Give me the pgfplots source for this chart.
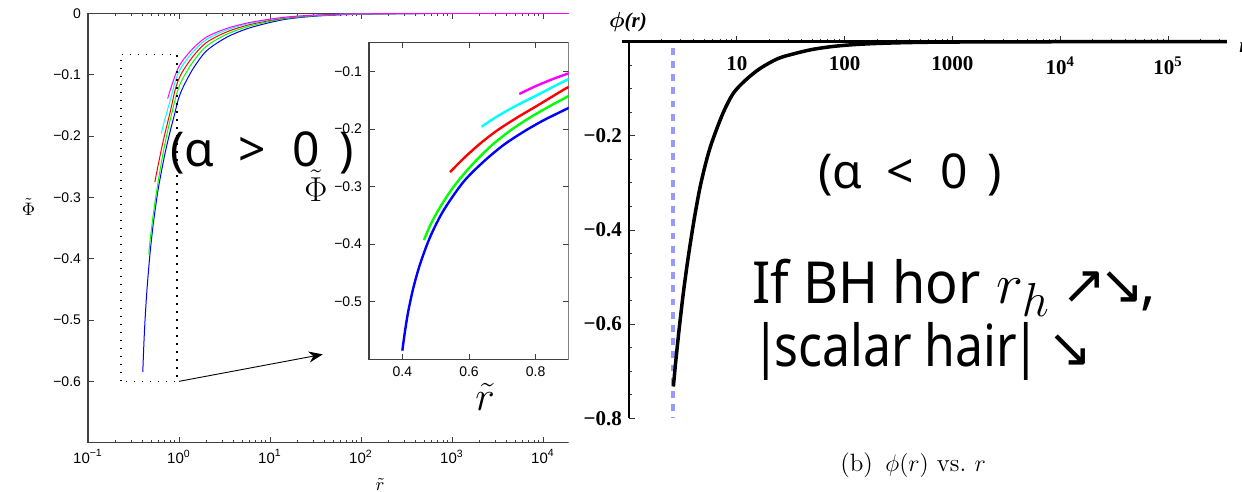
\documentclass[border=0pt]{standalone}
\usepackage{fontspec}
\usepackage{graphicx}
\usepackage{pgfplots}
\usepackage{pgfplotstable}
\pgfplotsset{compat=1.18}
\usetikzlibrary{arrows.meta}
\newfontfamily\arialf{Liberation Sans}
\newfontfamily\timesf{Liberation Serif}
\newfontfamily\notof{Noto Sans}
\newfontfamily\djv{DejaVu Sans}
\definecolor{mblue}{rgb}{0,0,1}
\definecolor{mgreen}{rgb}{0,1,0}
\definecolor{mred}{rgb}{1,0,0}
\definecolor{mcyan}{rgb}{0,1,1}
\definecolor{mmag}{rgb}{1,0,1}
\definecolor{hblue}{rgb}{0.6,0.6,0.98}

\pgfplotstableread{
r phi
0.400 -0.585
0.408 -0.551
0.418 -0.516
0.433 -0.476
0.453 -0.435
0.483 -0.388
0.523 -0.342
0.583 -0.292
0.643 -0.257
0.703 -0.228
0.763 -0.205
0.823 -0.185
0.900 -0.163
0.950 -0.1483
1.000 -0.1369
1.114 -0.1198
1.436 -0.0897
2.01 -0.0611
3.34 -0.0391
6.03 -0.0236
14 -0.0104
32.6 -0.0045
100 -0.00147
1000 -0.00015
100000 0
}\tblue
\pgfplotstableread{
r phi
0.465 -0.393
0.483 -0.368
0.513 -0.336
0.553 -0.301
0.603 -0.266
0.663 -0.231
0.723 -0.203
0.783 -0.180
0.843 -0.160
0.900 -0.1425
0.950 -0.1297
1.000 -0.1197
1.114 -0.1047
1.436 -0.0784
2.01 -0.0534
3.34 -0.0342
6.03 -0.0207
14 -0.0091
32.6 -0.0039
100 -0.0013
1000 -0.00013
100000 0
}\tgreen
\pgfplotstableread{
r phi
0.543 -0.275
0.583 -0.2515
0.633 -0.2255
0.683 -0.203
0.743 -0.1805
0.803 -0.160
0.853 -0.1425
0.900 -0.1265
0.950 -0.1151
1.000 -0.1063
1.114 -0.0930
1.436 -0.0696
2.01 -0.0474
3.34 -0.0304
6.03 -0.0183
14 -0.0081
32.6 -0.0035
100 -0.0011
1000 -0.00011
100000 0
}\tred
\pgfplotstableread{
r phi
0.638 -0.196
0.683 -0.1785
0.743 -0.159
0.803 -0.1415
0.853 -0.1265
0.900 -0.113
0.950 -0.1028
1.000 -0.0949
1.114 -0.0831
1.436 -0.0622
2.01 -0.0424
3.34 -0.0271
6.03 -0.0164
14 -0.0072
32.6 -0.0031
100 -0.0010
1000 -0.0001
100000 0
}\tcyan
\pgfplotstableread{
r phi
0.751 -0.139
0.800 -0.1255
0.850 -0.1135
0.900 -0.103
0.950 -0.0937
1.000 -0.0865
1.114 -0.0757
1.436 -0.0567
2.01 -0.0386
3.34 -0.0247
6.03 -0.0149
14 -0.0066
32.6 -0.0028
100 -0.0009
1000 -0.0001
100000 0
}\tmagenta
\pgfplotstableread{
r phi
2.58 -0.7325
2.70 -0.684
2.85 -0.632
3.00 -0.586
3.19 -0.534
3.45 -0.476
3.73 -0.424
4.10 -0.366
4.60 -0.305
5.33 -0.245
6.05 -0.205
7.50 -0.150
9.28 -0.1095
12.0 -0.0820
16.4 -0.0570
24.0 -0.0360
33.4 -0.0260
50.0 -0.0165
78.5 -0.0100
120 -0.0063
200 -0.0037
400 -0.0018
1000 -0.0007
10000 -0.00007
350000 0
}\tright

\begin{document}
\begin{tikzpicture}
\useasboundingbox (0,0) rectangle (621pt,246pt);
\begin{scope}
\clip (0,0) rectangle (284.25pt,246pt);
% ---------------- main left axis
\begin{axis}[
  scale only axis, width=273pt, height=214.7pt,
  at={(44pt,24.65pt)}, anchor=south west,
  xmode=log, xmin=0.1, xmax=1e5, ymin=-0.7, ymax=0,
  xtick={0.1,1,10,100,1000,10000,100000},
  xticklabels={10\textsuperscript{−1},10\textsuperscript{0},10\textsuperscript{1},10\textsuperscript{2},10\textsuperscript{3},10\textsuperscript{4},10\textsuperscript{5}},
  minor xtick={0.2,0.3,0.4,0.5,0.6,0.7,0.8,0.9,2,3,4,5,6,7,8,9,20,30,40,50,60,70,80,90,200,300,400,500,600,700,800,900,2000,3000,4000,5000,6000,7000,8000,9000,20000,30000,40000,50000,60000,70000,80000,90000},
  ytick={-0.6,-0.5,-0.4,-0.3,-0.2,-0.1,0},
  yticklabels={−0.6,−0.5,−0.4,−0.3,−0.2,−0.1,0},
  tick align=inside, major tick length=2.8pt, minor tick length=1.5pt,
  x tick label style={font=\arialf\fontsize{7.5}{8}\selectfont},
  y tick label style={font=\arialf\fontsize{7}{8}\selectfont},
  axis line style={black!75, line width=0.6pt},
  every tick/.style={black!75, line width=0.45pt},
]
\addplot[mblue, line width=0.5pt, smooth] table[x=r,y=phi] {\tblue};
\addplot[mgreen, line width=0.5pt, smooth] table[x=r,y=phi] {\tgreen};
\addplot[mred, line width=0.5pt, smooth] table[x=r,y=phi] {\tred};
\addplot[mcyan, line width=0.5pt, smooth] table[x=r,y=phi] {\tcyan};
\addplot[mmag, line width=0.5pt, smooth] table[x=r,y=phi] {\tmagenta};
\draw[black, line width=0.7pt, dash pattern=on 0.6pt off 3.4pt] (axis cs:0.23,-0.6) rectangle (axis cs:0.95,-0.067);
\draw[black, line width=0.45pt, -{Stealth[length=7pt,width=5.5pt]}] (axis cs:1.0,-0.6) -- (axis cs:38,-0.556);
\end{axis}
% ---------------- inset
\begin{axis}[
  scale only axis, width=100pt, height=158.3pt,
  at={(184.5pt,66.35pt)}, anchor=south west,
  xmin=0.3, xmax=0.9, ymin=-0.6, ymax=-0.05,
  restrict x to domain=0.3:1.0,
  xtick={0.4,0.6,0.8}, xticklabels={0.4,0.6,0.8},
  ytick={-0.5,-0.4,-0.3,-0.2,-0.1},
  yticklabels={−0.5,−0.4,−0.3,−0.2,−0.1},
  tick align=inside, major tick length=2.8pt,
  tick label style={font=\arialf\fontsize{7}{8}\selectfont},
  axis line style={black!75, line width=0.6pt},
  every tick/.style={black!75, line width=0.45pt},
  axis background/.style={fill=white},
]
\addplot[mblue, line width=1.2pt, smooth] table[x=r,y=phi] {\tblue};
\addplot[mgreen, line width=1.2pt, smooth] table[x=r,y=phi] {\tgreen};
\addplot[mred, line width=1.2pt, smooth] table[x=r,y=phi] {\tred};
\addplot[mcyan, line width=1.2pt, smooth] table[x=r,y=phi] {\tcyan};
\addplot[mmag, line width=1.2pt, smooth] table[x=r,y=phi] {\tmagenta};
\end{axis}
\node at (14.25pt,142.5pt) {\fontsize{9}{10}\selectfont$\tilde{\Phi}$};
\node at (190pt,4pt) {\fontsize{9}{10}\selectfont$\tilde{r}$};
\node at (158pt,153pt) {\fontsize{16}{18}\selectfont$\tilde{\Phi}$};
\node at (242.5pt,47.5pt) {\fontsize{22}{24}\selectfont$\tilde{r}$};
\end{scope}
\node[anchor=base west, inner sep=0pt] at (85pt,162.5pt) {\notof\fontsize{24}{28}\selectfont(α\hspace{12pt}>\hspace{13pt}0\hspace{10pt})};
% ---------------- right axis
\begin{axis}[
  scale only axis, width=299pt, height=188.3pt,
  at={(314.5pt,36.85pt)}, anchor=south west,
  xmode=log, xmin=1, xmax=351600, ymin=-0.8, ymax=0,
  axis x line*=top, axis y line*=left,
  clip=false,
  xtick={10,100,1000,10000,100000},
  xticklabels={10,100,1000,10\textsuperscript{4},10\textsuperscript{5}},
  minor xtick={2,3,4,5,6,7,8,9,20,30,40,50,60,70,80,90,200,300,400,500,600,700,800,900,2000,3000,4000,5000,6000,7000,8000,9000,20000,30000,40000,50000,60000,70000,80000,90000,200000,300000},
  ytick={-0.8,-0.6,-0.4,-0.2,0},
  yticklabels={−0.8,−0.6,−0.4,−0.2,{}},
  minor y tick num=3,
  xtick align=outside, ytick align=inside,
  major tick length=3pt, minor tick length=1.6pt,
  tick label style={font=\timesf\bfseries\fontsize{10.5}{12}\selectfont},
  x tick label style={anchor=north, yshift=-7pt},
  x axis line style={black, line width=1.4pt, shorten <=-3.5pt},
  y axis line style={black, line width=0.9pt},
  every tick/.style={black!80, line width=0.5pt},
]
\addplot[hblue, line width=2pt, dash pattern=on 3.4pt off 3.2pt] coordinates {(2.58,-0.013) (2.58,-0.8)};
\addplot[black, line width=1.75pt, smooth] table[x=r,y=phi] {\tright};
\end{axis}
\node at (314pt,235pt) {\fontsize{10.5}{12}\selectfont{\boldmath$\phi$}\timesf\bfseries\itshape(r)};
\node[anchor=west, inner sep=0pt] at (619.5pt,222pt) {\timesf\bfseries\itshape\fontsize{10.5}{12}\selectfont r};
\node[anchor=base west, inner sep=0pt] at (409pt,151.85pt) {\notof\fontsize{24}{28}\selectfont(α\hspace{12pt}<\hspace{13pt}0\hspace{10pt})};
\node[anchor=base west, inner sep=0pt] at (376pt,94.35pt) {\notof\fontsize{29}{34}\selectfont\scalebox{0.93}[1]{If BH hor}\hspace{8pt}\scalebox{1.15}{$r_h$}\hspace{6pt}{\djv\fontsize{27}{30}\selectfont ↗\kern-4pt↘}\kern-2pt,};
\node[anchor=base west, inner sep=0pt] at (376pt,62.65pt) {\notof\fontsize{29}{34}\selectfont\scalebox{0.86}[1]{|\kern-3pt scalar hair\kern-3pt|}\hspace{4pt}{\djv\fontsize{27}{30}\selectfont ↘}};
\node at (456.5pt,13.5pt) {\fontsize{12.5}{14}\selectfont (b)\hspace{0.5em}$\phi(r)$ vs.\ $r$};
\end{tikzpicture}
\end{document}
